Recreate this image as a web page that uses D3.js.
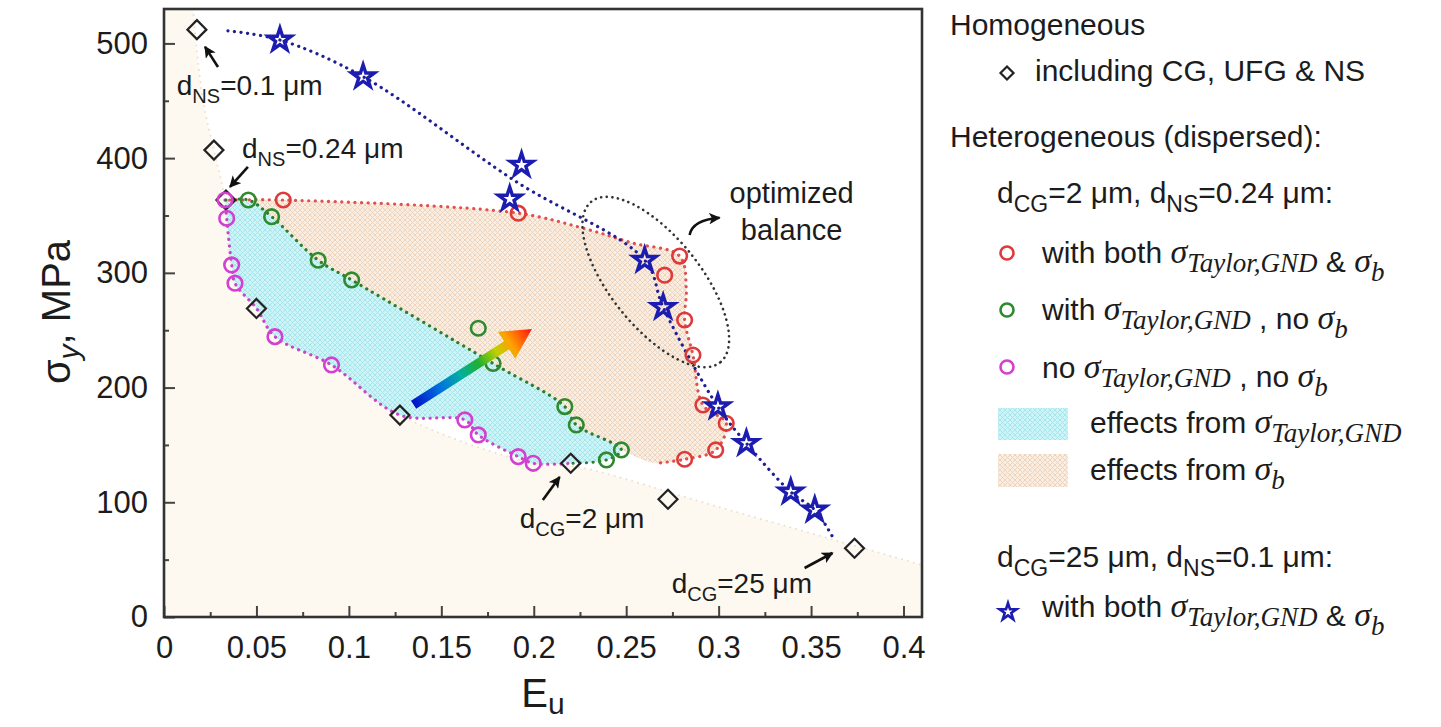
<!DOCTYPE html>
<html><head><meta charset="utf-8">
<script src="https://cdn.jsdelivr.net/npm/d3@7"></script>
<style>
html,body{margin:0;padding:0;background:#fff;}
text{font-family:"Liberation Sans",Arial,Helvetica,sans-serif;fill:#1c1c1c;}
</style></head>
<body>
<svg id="chart" width="1441" height="727"></svg>
<script>
// ---------------- DATA ----------------
const xTicks = [0,0.05,0.1,0.15,0.2,0.25,0.3,0.35,0.4];
const xTickLabels = ["0","0.05","0.1","0.15","0.2","0.25","0.3","0.35","0.4"];
const xMinor = [0.025,0.075,0.125,0.175,0.225,0.275,0.325,0.375];
const yTicks = [0,100,200,300,400,500];
const yTickLabels = ["0","100","200","300","400","500"];
const yMinor = [50,150,250,350,450];

// homogeneous (diamonds)
const homogeneous = [[0.0178,512],[0.027,407],[0.0335,363.5],[0.05,269],[0.1276,176],[0.22,134],[0.2726,102.6],[0.3735,59.9]];
// red: with both sigma_Taylor,GND & sigma_b (dCG=2, dNS=0.24)
const redBoth = [[0.0645,363.5],[0.1916,352],[0.2789,314.6],[0.2708,298],[0.2816,258.9],[0.2861,228.4],[0.2915,184.8],[0.3041,168.9],[0.2984,145.6],[0.2816,137.5]];
// green: with sigma_Taylor,GND, no sigma_b
const greenTaylor = [[0.0456,363.5],[0.0582,349],[0.0834,311],[0.1015,293.8],[0.17,251.7],[0.178,221],[0.2168,183.4],[0.223,167.4],[0.2393,136.9],[0.2474,145.6]];
// magenta: no sigma_Taylor,GND, no sigma_b
const magentaNone = [[0.033,363.5],[0.0339,347.6],[0.0366,306.9],[0.0384,291],[0.06,244.4],[0.0906,219.7],[0.1627,171.8],[0.17,158.7],[0.1916,139.8],[0.1997,134]];
// blue stars: dCG=25, dNS=0.1 with both
const blueStars = [[0.0627,503],[0.1077,471],[0.1934,394],[0.187,364.4],[0.26,311],[0.27,270],[0.2996,183.3],[0.315,151.4],[0.339,109],[0.352,93.3]];

// guide curves
const blueCurve = [[0.0346,511],[0.0627,503],[0.1077,471],[0.19,380],[0.26,311],[0.27,270],[0.2996,183.3],[0.315,151.4],[0.339,109],[0.352,93.3],[0.3616,70]];
const redCurve = [[0.0355,363.5],[0.0645,363.5],[0.1916,352],[0.2265,339],[0.2535,326],[0.2789,314.6],[0.2825,285],[0.2816,258.9],[0.2861,228.4],[0.2915,184.8],[0.3041,168.9],[0.2984,145.6],[0.2816,137.5],[0.2662,134]];
const greenCurve = [[0.0335,363.5],[0.0456,363.5],[0.0582,349],[0.0834,311],[0.1015,293.8],[0.178,221],[0.2168,183.4],[0.223,167.4],[0.2474,145.6],[0.2393,136.9],[0.22,134]];
const magentaCurve = [[0.033,363.5],[0.0339,347.6],[0.0366,306.9],[0.0384,291],[0.05,269],[0.06,244.4],[0.0906,219.7],[0.1276,176],[0.1627,171.8],[0.17,158.7],[0.1916,139.8],[0.1997,134],[0.22,134]];
const homCurve = [[0.0157,530],[0.021,451],[0.027,407],[0.033,363.5],[0.0366,306.9],[0.05,269],[0.0906,219.7],[0.1276,176],[0.1997,134],[0.223,131],[0.3,95.9],[0.41,45.3]];

// annotations (data space)
const arrowGrad = {from:[0.135,185], to:[0.199,251]};
const ellipse = {c:[0.266,292]};
const annArrows = [
  {from:[0.0292,479.5], to:[0.0222,497]},
  {from:[0.0454,392.3], to:[0.0357,374.9]},
  {from:[0.2049,102], to:[0.214,122]},
  {from:[0.3465,42.7], to:[0.3616,55.8]}
];
const annTexts = [
  {at:[0.0069,455], base:"d", sub:"NS", rest:"=0.1 μm"},
  {at:[0.0422,400], base:"d", sub:"NS", rest:"=0.24 μm"},
  {at:[0.1924,77.6], base:"d", sub:"CG", rest:"=2 μm"},
  {at:[0.2746,20.9], base:"d", sub:"CG", rest:"=25 μm"}
];
const balanceText = {at:[0.3395,361], lines:["optimized","balance"]};
const curvedArrow = {from:[0.2843,333], to:[0.3005,348]};

// ---------------- SETUP ----------------
const svg = d3.select("#chart");
const x = d3.scaleLinear().domain([0,0.41]).range([164,922]);
const y = d3.scaleLinear().domain([0,530]).range([617,9]);
const defs = svg.append("defs");
defs.append("clipPath").attr("id","clip").append("rect")
  .attr("x",164).attr("y",9).attr("width",758).attr("height",608);

function hatch(id, base, line){
  const p = defs.append("pattern").attr("id",id).attr("patternUnits","userSpaceOnUse")
    .attr("width",5).attr("height",5);
  p.append("rect").attr("width",5).attr("height",5).attr("fill",base);
  p.append("path").attr("d","M0,0L5,5M5,0L0,5").attr("stroke",line).attr("stroke-width",1);
}
hatch("hatchCyan","#cdf4f6","#a6e5eb");
hatch("hatchBeige","#faeee2","#eed4bc");

const curve = d3.curveCatmullRom.alpha(0.5);
const line = d3.line().x(d=>x(d[0])).y(d=>y(d[1])).curve(curve);
const plot = svg.append("g").attr("clip-path","url(#clip)");

// cream homogeneous region
plot.append("path")
  .attr("d", line(homCurve) + `L${x(0.41)},${y(0)}L${x(0)},${y(0)}L${x(0)},${y(530)}Z`)
  .attr("fill","#fdf9f1");
plot.append("path").attr("d",line(homCurve)).attr("fill","none")
  .attr("stroke","#ece2cf").attr("stroke-width",2).attr("stroke-dasharray","0.1,6").attr("stroke-linecap","round");

// beige region: red curve + green upper reversed
const greenUpper = greenCurve.slice(0,9);
plot.append("path").attr("d", line(redCurve.concat(greenUpper.slice().reverse())) + "Z")
  .attr("fill","url(#hatchBeige)");
// cyan region: green curve + magenta reversed
plot.append("path").attr("d", line(greenCurve.concat(magentaCurve.slice().reverse())) + "Z")
  .attr("fill","url(#hatchCyan)");

function dotted(data,color,w){
  plot.append("path").attr("d",line(data)).attr("fill","none").attr("stroke",color)
    .attr("stroke-width",w||3.2).attr("stroke-dasharray","0.1,6.5").attr("stroke-linecap","round");
}
dotted(magentaCurve,"#c845c8");
dotted(greenCurve,"#2e7d2e");
dotted(redCurve,"#e0504f");
dotted(blueCurve,"#1f1f95");

// ellipse
plot.append("ellipse").attr("cx",0).attr("cy",0).attr("rx",103).attr("ry",45)
  .attr("transform",`translate(${x(ellipse.c[0])},${y(ellipse.c[1])}) rotate(51.3)`)
  .attr("fill","none").attr("stroke","#333").attr("stroke-width",2.6)
  .attr("stroke-dasharray","0.1,5.5").attr("stroke-linecap","round");

// markers
const starSym = d3.symbol().type(d3.symbolStar).size(160);
function diamondPath(cx,cy,r){return `M${cx},${cy-r}L${cx+r},${cy}L${cx},${cy+r}L${cx-r},${cy}Z`;}
plot.selectAll(".dia").data(homogeneous).join("path").attr("class","dia")
  .attr("d",d=>diamondPath(x(d[0]),y(d[1]),9.5)).attr("fill","none").attr("stroke","#222").attr("stroke-width",2.2);
function circles(data,color){
  plot.append("g").selectAll("circle").data(data).join("circle")
    .attr("cx",d=>x(d[0])).attr("cy",d=>y(d[1])).attr("r",7.3)
    .attr("fill","none").attr("stroke",color).attr("stroke-width",2.6);
}
circles(magentaNone,"#d23fd2");
circles(greenTaylor,"#2f8a2f");
circles(redBoth,"#dd3b3b");
plot.append("g").selectAll("path").data(blueStars).join("path")
  .attr("d",starSym).attr("transform",d=>`translate(${x(d[0])},${y(d[1])})`)
  .attr("fill","none").attr("stroke","#1c1cb0").attr("stroke-width",3.4);

// rainbow arrow
(function(){
  const p0=[x(arrowGrad.from[0]),y(arrowGrad.from[1])], p1=[x(arrowGrad.to[0]),y(arrowGrad.to[1])];
  const dx=p1[0]-p0[0], dy=p1[1]-p0[1], L=Math.hypot(dx,dy);
  const u=[dx/L,dy/L], n=[-u[1],u[0]];
  const hl=30, hw=16, sw=4.8;
  const hb=[p1[0]-u[0]*hl, p1[1]-u[1]*hl];
  const pts=[[p0[0]+n[0]*sw,p0[1]+n[1]*sw],[hb[0]+n[0]*sw,hb[1]+n[1]*sw],[hb[0]+n[0]*hw,hb[1]+n[1]*hw],p1,
             [hb[0]-n[0]*hw,hb[1]-n[1]*hw],[hb[0]-n[0]*sw,hb[1]-n[1]*sw],[p0[0]-n[0]*sw,p0[1]-n[1]*sw]];
  const g=defs.append("linearGradient").attr("id","rainbow").attr("gradientUnits","userSpaceOnUse")
    .attr("x1",p0[0]).attr("y1",p0[1]).attr("x2",p1[0]).attr("y2",p1[1]);
  [[0,"#0010c8"],[0.22,"#0070e0"],[0.4,"#00b0a0"],[0.55,"#20b030"],[0.7,"#c0d000"],[0.82,"#ffa000"],[1,"#ff1010"]]
    .forEach(s=>g.append("stop").attr("offset",s[0]).attr("stop-color",s[1]));
  svg.append("path").attr("d","M"+pts.map(p=>p.join(",")).join("L")+"Z").attr("fill","url(#rainbow)");
})();

// annotation arrows
defs.append("marker").attr("id","ah").attr("viewBox","0 0 10 10").attr("refX",9).attr("refY",5)
  .attr("markerWidth",4.5).attr("markerHeight",4.5).attr("orient","auto")
  .append("path").attr("d","M0,0L10,5L0,10L2.5,5Z").attr("fill","#111");
annArrows.forEach(a=>{
  svg.append("line").attr("x1",x(a.from[0])).attr("y1",y(a.from[1])).attr("x2",x(a.to[0])).attr("y2",y(a.to[1]))
    .attr("stroke","#111").attr("stroke-width",2.6).attr("marker-end","url(#ah)");
});
{
  const a=[x(curvedArrow.from[0]),y(curvedArrow.from[1])], b=[x(curvedArrow.to[0]),y(curvedArrow.to[1])];
  svg.append("path").attr("d",`M${a[0]},${a[1]}Q${a[0]+3},${b[1]+2} ${b[0]},${b[1]}`)
    .attr("fill","none").attr("stroke","#111").attr("stroke-width",2.6).attr("marker-end","url(#ah)");
}
annTexts.forEach(t=>{
  const tx=svg.append("text").attr("x",x(t.at[0])).attr("y",y(t.at[1])).attr("font-size",28);
  tx.append("tspan").text(t.base);
  tx.append("tspan").attr("dy",8).attr("font-size",20).text(t.sub);
  tx.append("tspan").attr("dy",-8).text(t.rest);
});
balanceText.lines.forEach((s,i)=>{
  svg.append("text").attr("x",x(balanceText.at[0])).attr("y",y(balanceText.at[1])+i*37.5)
    .attr("text-anchor","middle").attr("font-size",29).text(s);
});

// axes
function styleAxis(g){ g.select(".domain").remove(); g.selectAll("line").attr("stroke","#444").attr("stroke-width",2);
  g.selectAll("text").attr("font-size",31).attr("fill","#1c1c1c").style("font-family",'"Liberation Sans",Arial,sans-serif'); }
svg.append("g").attr("transform","translate(0,617)")
  .call(d3.axisBottom(x).tickValues(xTicks).tickFormat((d,i)=>xTickLabels[i]).tickSizeInner(-11).tickSizeOuter(0).tickPadding(19))
  .call(styleAxis);
svg.append("g").attr("transform","translate(0,617)")
  .call(d3.axisBottom(x).tickValues(xMinor).tickFormat("").tickSizeInner(-5).tickSizeOuter(0)).call(styleAxis);
svg.append("g").attr("transform","translate(164,0)")
  .call(d3.axisLeft(y).tickValues(yTicks).tickFormat((d,i)=>yTickLabels[i]).tickSizeInner(-11).tickSizeOuter(0).tickPadding(16))
  .call(styleAxis);
svg.append("g").attr("transform","translate(164,0)")
  .call(d3.axisLeft(y).tickValues(yMinor).tickFormat("").tickSizeInner(-5).tickSizeOuter(0)).call(styleAxis);
svg.append("rect").attr("x",164).attr("y",9).attr("width",758).attr("height",608)
  .attr("fill","none").attr("stroke","#333").attr("stroke-width",2.6);

// axis titles
{
  const t=svg.append("text").attr("transform","translate(70,312) rotate(-90)").attr("text-anchor","middle").attr("font-size",40);
  t.append("tspan").text("σ");
  t.append("tspan").attr("dy",9).attr("font-size",30).attr("font-style","italic").text("y");
  t.append("tspan").attr("dy",-9).text(", MPa");
  const e=svg.append("text").attr("x",543).attr("y",707).attr("text-anchor","middle").attr("font-size",40);
  e.append("tspan").text("E");
  e.append("tspan").attr("dy",7).attr("font-size",30).text("u");
}

// ---------------- LEGEND ----------------
const serif='"Liberation Serif","Times New Roman",serif';
function sigma(t, sub){
  t.append("tspan").style("font-family",serif).attr("font-style","italic").attr("font-size",34).text("σ");
  t.append("tspan").attr("dy",9).style("font-family",serif).attr("font-style","italic").attr("font-size",27).text(sub);
  t.append("tspan").attr("dy",-9).text("");
}
function legText(xp,yp){ return svg.append("text").attr("x",xp).attr("y",yp).attr("font-size",30); }

legText(950,35).text("Homogeneous");
svg.append("path").attr("d",diamondPath(1007,73,6.5)).attr("fill","none").attr("stroke","#222").attr("stroke-width",2.2);
legText(1035,81).text("including CG, UFG & NS");
legText(950,147).text("Heterogeneous (dispersed):");
{ const t=legText(997,203);
  t.append("tspan").text("d"); t.append("tspan").attr("dy",9).attr("font-size",23).text("CG");
  t.append("tspan").attr("dy",-9).text("=2 μm, d"); t.append("tspan").attr("dy",9).attr("font-size",23).text("NS");
  t.append("tspan").attr("dy",-9).text("=0.24 μm:"); }
svg.append("circle").attr("cx",1007).attr("cy",253).attr("r",6.5).attr("fill","none").attr("stroke","#dd3b3b").attr("stroke-width",2.6);
{ const t=legText(1042,263); t.append("tspan").text("with both "); sigma(t,"Taylor,GND");
  t.append("tspan").text(" & "); sigma(t,"b"); }
svg.append("circle").attr("cx",1007).attr("cy",310).attr("r",6.5).attr("fill","none").attr("stroke","#2f8a2f").attr("stroke-width",2.6);
{ const t=legText(1042,320); t.append("tspan").text("with "); sigma(t,"Taylor,GND");
  t.append("tspan").text(" , no "); sigma(t,"b"); }
svg.append("circle").attr("cx",1007).attr("cy",367).attr("r",6.5).attr("fill","none").attr("stroke","#d23fd2").attr("stroke-width",2.6);
{ const t=legText(1042,378); t.append("tspan").text("no "); sigma(t,"Taylor,GND");
  t.append("tspan").text(" , no "); sigma(t,"b"); }
svg.append("rect").attr("x",998).attr("y",408).attr("width",70).attr("height",32).attr("fill","url(#hatchCyan)");
{ const t=legText(1090,433); t.append("tspan").text("effects from "); sigma(t,"Taylor,GND"); }
svg.append("rect").attr("x",998).attr("y",454).attr("width",70).attr("height",33).attr("fill","url(#hatchBeige)");
{ const t=legText(1090,480); t.append("tspan").text("effects from "); sigma(t,"b"); }
{ const t=legText(997,567);
  t.append("tspan").text("d"); t.append("tspan").attr("dy",9).attr("font-size",23).text("CG");
  t.append("tspan").attr("dy",-9).text("=25 μm, d"); t.append("tspan").attr("dy",9).attr("font-size",23).text("NS");
  t.append("tspan").attr("dy",-9).text("=0.1 μm:"); }
svg.append("path").attr("d",d3.symbol().type(d3.symbolStar).size(90)()).attr("transform","translate(1008,612)")
  .attr("fill","none").attr("stroke","#1c1cb0").attr("stroke-width",2.6);
{ const t=legText(1042,617); t.append("tspan").text("with both "); sigma(t,"Taylor,GND");
  t.append("tspan").text(" & "); sigma(t,"b"); }
</script>
</body></html>
